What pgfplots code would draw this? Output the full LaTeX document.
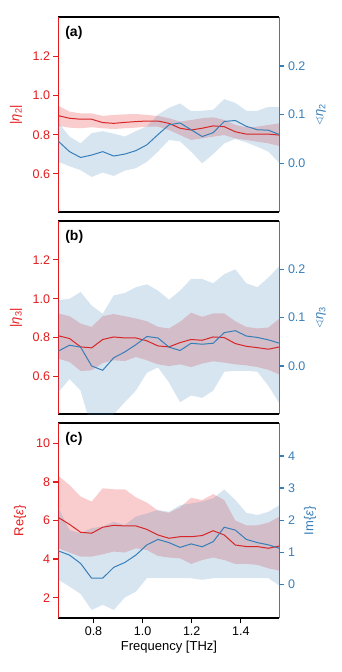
\documentclass[border=0pt]{standalone}
\usepackage{pgfplots}
\pgfplotsset{compat=1.18}
\usepackage{pgfplotstable}
\usepgfplotslibrary{fillbetween}
\usepackage{amssymb}
\usepackage{fontspec}
\setmainfont{Liberation Sans}
\definecolor{cred}{HTML}{E41A1C}
\definecolor{cline}{HTML}{D62728}
\definecolor{cblue}{HTML}{377EB8}

\pgfplotstableread{
x rm ru rl bm bu bl
0.6575 0.897 0.947 0.845 0.045 0.083 0.003
0.7025 0.884 0.918 0.836 0.024 0.055 -0.006
0.7475 0.879 0.909 0.833 0.012 0.041 -0.014
0.7925 0.879 0.909 0.838 0.017 0.062 -0.028
0.8375 0.862 0.896 0.833 0.024 0.066 -0.019
0.8825 0.858 0.901 0.829 0.015 0.061 -0.026
0.9275 0.863 0.904 0.833 0.019 0.055 -0.015
0.9725 0.867 0.906 0.836 0.026 0.066 -0.010
1.0175 0.870 0.901 0.841 0.038 0.076 0.003
1.0625 0.870 0.896 0.841 0.059 0.100 0.024
1.1075 0.858 0.884 0.824 0.079 0.114 0.048
1.1525 0.833 0.867 0.798 0.083 0.123 0.045
1.1975 0.824 0.875 0.773 0.069 0.107 0.024
1.2425 0.833 0.884 0.781 0.055 0.108 0.000
1.2875 0.845 0.889 0.790 0.063 0.110 0.019
1.3325 0.841 0.875 0.798 0.086 0.132 0.041
1.3775 0.815 0.850 0.781 0.088 0.124 0.050
1.4225 0.803 0.838 0.773 0.076 0.108 0.043
1.4675 0.803 0.841 0.764 0.069 0.108 0.034
1.5125 0.803 0.850 0.756 0.068 0.116 0.024
1.5575 0.798 0.858 0.742 0.059 0.116 0.000
}\dataA

\pgfplotstableread{
x rm ru rl bm bu bl
0.6575 0.809 0.924 0.691 0.031 0.136 -0.054
0.7025 0.795 0.910 0.674 0.043 0.139 -0.027
0.7475 0.752 0.872 0.628 0.039 0.153 -0.051
0.7925 0.747 0.855 0.631 0.000 0.125 -0.130
0.8375 0.790 0.910 0.669 -0.009 0.108 -0.130
0.8825 0.803 0.921 0.683 0.017 0.146 -0.100
0.9275 0.798 0.910 0.679 0.029 0.151 -0.075
0.9725 0.798 0.898 0.700 0.044 0.163 -0.051
1.0175 0.783 0.884 0.683 0.061 0.169 -0.014
1.0625 0.757 0.855 0.662 0.058 0.156 -0.003
1.1075 0.752 0.847 0.653 0.039 0.137 -0.034
1.1525 0.774 0.881 0.662 0.032 0.156 -0.075
1.1975 0.790 0.928 0.648 0.047 0.180 -0.061
1.2425 0.786 0.907 0.666 0.045 0.180 -0.066
1.2875 0.803 0.924 0.678 0.047 0.171 -0.051
1.3325 0.800 0.924 0.671 0.069 0.190 -0.012
1.3775 0.769 0.884 0.662 0.073 0.200 -0.010
1.4225 0.755 0.855 0.657 0.062 0.171 -0.010
1.4675 0.748 0.847 0.648 0.059 0.163 -0.012
1.5125 0.740 0.852 0.634 0.054 0.183 -0.041
1.5575 0.752 0.898 0.609 0.047 0.207 -0.078
}\dataB

\pgfplotstableread{
x rm ru rl bm bu bl
0.6575 6.15 8.31 4.56 1.04 2.37 0.14
0.7025 5.80 7.84 4.34 0.91 1.69 -0.07
0.7475 5.39 7.24 4.13 0.65 1.59 -0.30
0.7925 5.34 6.98 4.13 0.19 1.75 -0.80
0.8375 5.65 7.67 4.25 0.19 1.80 -0.64
0.8825 5.75 7.62 4.39 0.53 1.95 -0.80
0.9275 5.72 7.62 4.34 0.68 1.85 -0.41
0.9725 5.72 7.20 4.56 0.91 2.11 -0.23
1.0175 5.54 6.93 4.47 1.23 2.21 0.19
1.0625 5.25 6.51 4.16 1.40 2.32 0.19
1.1075 5.08 6.40 4.08 1.30 2.26 0.19
1.1525 5.16 6.68 4.04 1.15 2.47 0.19
1.1975 5.16 7.18 3.75 1.26 2.52 0.19
1.2425 5.22 7.06 3.95 1.17 2.58 0.14
1.2875 5.47 7.37 4.08 1.33 2.68 0.19
1.3325 5.25 7.06 3.95 1.78 2.96 0.19
1.3775 4.73 6.00 3.75 1.69 2.63 0.19
1.4225 4.65 5.75 3.75 1.40 2.23 0.19
1.4675 4.65 5.75 3.70 1.30 2.16 0.19
1.5125 4.56 5.89 3.52 1.23 2.26 0.19
1.5575 4.68 6.20 3.40 1.12 2.47 -0.04
}\dataC

\tikzset{plab/.style={anchor=north west, inner sep=0pt, font=\bfseries\fontsize{14}{16}\selectfont}}
\newcommand{\lblfont}{\fontsize{13}{15}\selectfont}

\pgfplotsset{
  base/.style={scale only axis, width=221pt, xmin=0.6575, xmax=1.5575,
    tick align=outside, major tick length=5pt,
    /pgf/number format/assume math mode=true,
    ticklabel style={font=\fontsize{12.5}{14}\selectfont},
    yticklabel style={/pgf/number format/fixed, /pgf/number format/fixed zerofill, /pgf/number format/precision=1},
  },
  leftax/.style={base, axis y line*=left, axis x line=box,
    x axis line style={black, line width=1.8pt},
    y axis line style={cred, line width=1.6pt},
    ytick style={cred, line width=1.2pt},
    yticklabel style={text=cred},
    ylabel style={font=\lblfont, text=cred, at={(axis description cs:-0.192,0.5)}, anchor=center},
  },
  rightax/.style={base, axis y line*=right, axis x line=none,
    y axis line style={cblue, line width=1.6pt},
    ytick style={cblue, line width=1.2pt},
    yticklabel style={text=cblue},
    ylabel style={font=\lblfont, text=cblue, at={(axis description cs:1.188,0.5)}, anchor=center},
  },
  intlab/.style={yticklabel style={/pgf/number format/fixed, /pgf/number format/fixed zerofill=false, /pgf/number format/precision=0}},
}

\begin{document}
\begin{tikzpicture}

% ---------------- Panel (a)
\begin{axis}[leftax, at={(0pt,406.3pt)}, height=194.7pt, ymin=0.405, ymax=1.40,
  ytick={0.6,0.8,1.0,1.2}, xtick=\empty, ylabel={|\textit{η}\textsubscript{2}|}]
  \addplot[name path=au, draw=none, forget plot] table[x=x,y=ru]{\dataA};
  \addplot[name path=al, draw=none, forget plot] table[x=x,y=rl]{\dataA};
  \addplot[fill=cred, fill opacity=0.22, draw=none] fill between[of=au and al];
  \addplot[cline, line width=1pt] table[x=x,y=rm]{\dataA};
  \node[plab] at (rel axis cs:0.03,0.955) {(a)};
\end{axis}
\begin{axis}[rightax, at={(0pt,406.3pt)}, height=194.7pt, ymin=-0.1, ymax=0.30,
  ytick={0,0.1,0.2}, ylabel={$\sphericalangle$\textit{η}\textsubscript{2}}]
  \addplot[name path=bu, draw=none, forget plot] table[x=x,y=bu]{\dataA};
  \addplot[name path=bl, draw=none, forget plot] table[x=x,y=bl]{\dataA};
  \addplot[fill=cblue, fill opacity=0.2, draw=none] fill between[of=bu and bl];
  \addplot[cblue, line width=1pt] table[x=x,y=bm]{\dataA};
\end{axis}

% ---------------- Panel (b)
\begin{axis}[leftax, at={(0pt,204pt)}, height=193.3pt, ymin=0.405, ymax=1.40,
  ytick={0.6,0.8,1.0,1.2}, xtick=\empty, ylabel={|\textit{η}\textsubscript{3}|}]
  \addplot[name path=au, draw=none, forget plot] table[x=x,y=ru]{\dataB};
  \addplot[name path=al, draw=none, forget plot] table[x=x,y=rl]{\dataB};
  \addplot[fill=cred, fill opacity=0.22, draw=none] fill between[of=au and al];
  \addplot[cline, line width=1pt] table[x=x,y=rm]{\dataB};
  \node[plab] at (rel axis cs:0.03,0.955) {(b)};
\end{axis}
\begin{axis}[rightax, at={(0pt,204pt)}, height=193.3pt, ymin=-0.1, ymax=0.30,
  ytick={0,0.1,0.2}, ylabel={$\sphericalangle$\textit{η}\textsubscript{3}}]
  \addplot[name path=bu, draw=none, forget plot] table[x=x,y=bu]{\dataB};
  \addplot[name path=bl, draw=none, forget plot] table[x=x,y=bl]{\dataB};
  \addplot[fill=cblue, fill opacity=0.2, draw=none] fill between[of=bu and bl];
  \addplot[cblue, line width=1pt] table[x=x,y=bm]{\dataB};
\end{axis}

% ---------------- Panel (c)
\begin{axis}[leftax, intlab, at={(0pt,0pt)}, height=195pt, ymin=0.93, ymax=11.04,
  ytick={2,4,6,8,10},
  xtick={0.8,1.0,1.2,1.4}, xtick pos=left, xtick style={black, line width=1.2pt},
  xticklabel style={/pgf/number format/fixed, /pgf/number format/fixed zerofill, /pgf/number format/precision=1},
  xlabel={Frequency [THz]}, xlabel style={font=\lblfont, yshift=1pt},
  ylabel style={at={(axis description cs:-0.174,0.5)}},
  ylabel={Re\{\textit{ε}\}}]
  \addplot[name path=au, draw=none, forget plot] table[x=x,y=ru]{\dataC};
  \addplot[name path=al, draw=none, forget plot] table[x=x,y=rl]{\dataC};
  \addplot[fill=cred, fill opacity=0.22, draw=none] fill between[of=au and al];
  \addplot[cline, line width=1pt] table[x=x,y=rm]{\dataC};
  \node[plab] at (rel axis cs:0.03,0.955) {(c)};
\end{axis}
\begin{axis}[rightax, intlab, at={(0pt,0pt)}, height=195pt, ymin=-1.06, ymax=5.02,
  ytick={0,1,2,3,4},
  ylabel style={at={(axis description cs:1.138,0.5)}},
  ylabel={Im\{\textit{ε}\}}]
  \addplot[name path=bu, draw=none, forget plot] table[x=x,y=bu]{\dataC};
  \addplot[name path=bl, draw=none, forget plot] table[x=x,y=bl]{\dataC};
  \addplot[fill=cblue, fill opacity=0.2, draw=none] fill between[of=bu and bl];
  \addplot[cblue, line width=1pt] table[x=x,y=bm]{\dataC};
\end{axis}
\pgfresetboundingbox
\useasboundingbox (-58.5pt,-53.7pt) rectangle (282.5pt,618.3pt);
\end{tikzpicture}
\end{document}
